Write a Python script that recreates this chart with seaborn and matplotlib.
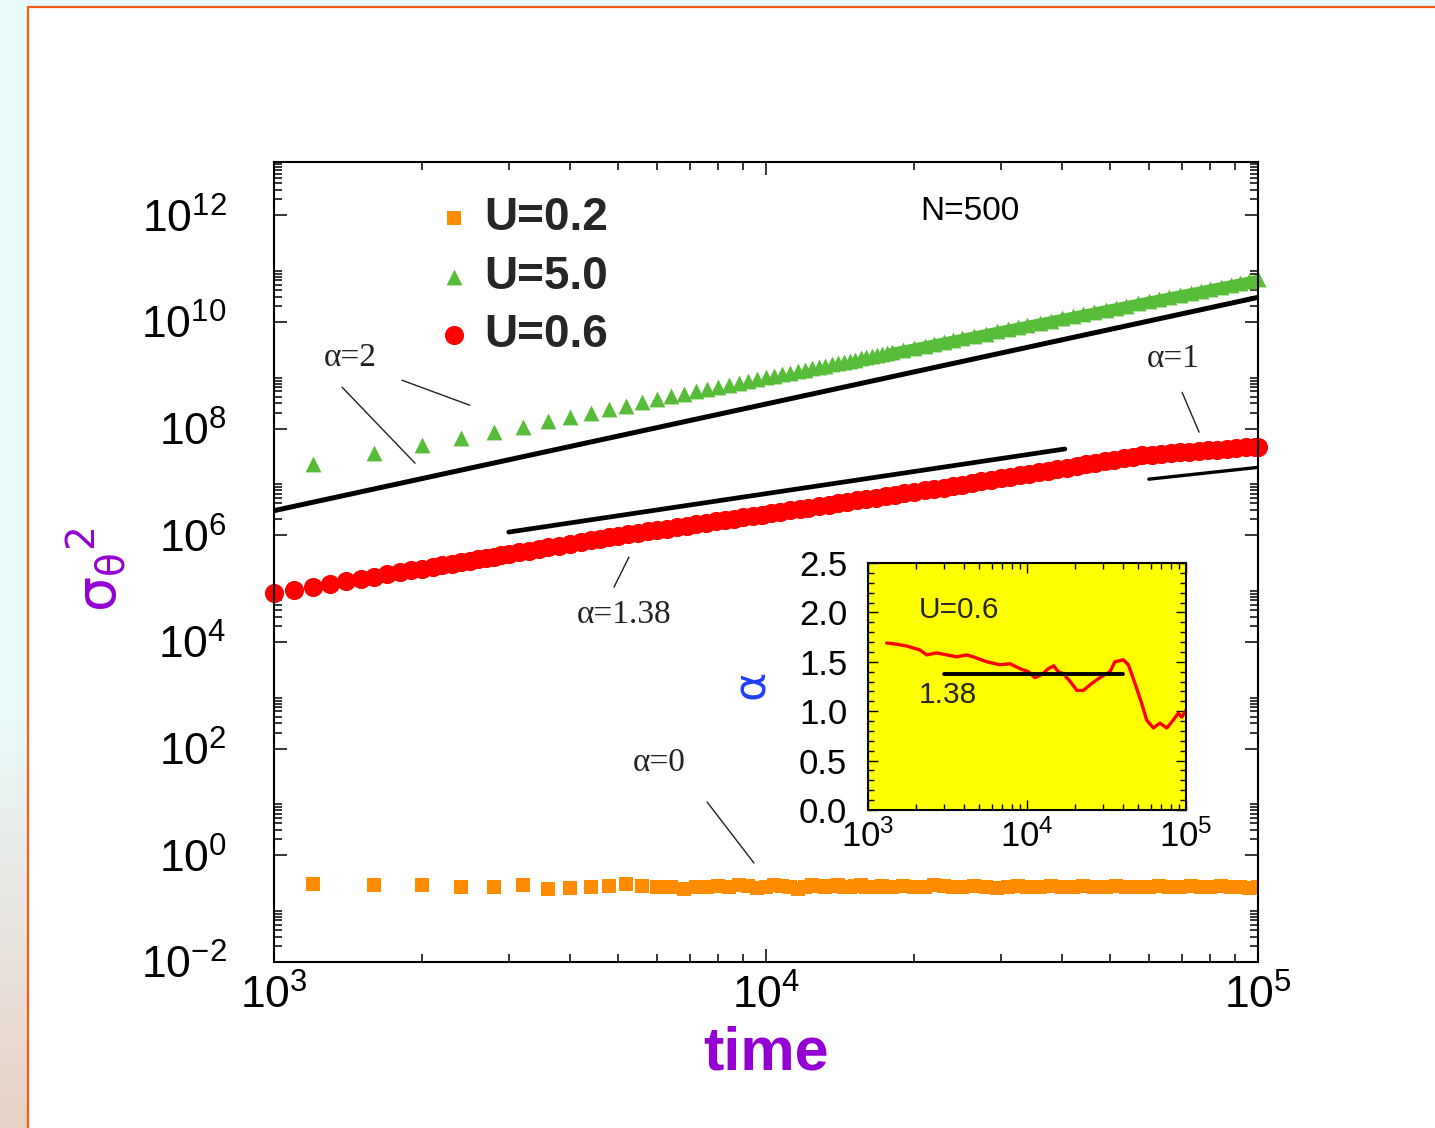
import numpy as np
import seaborn as sns
import matplotlib.pyplot as plt
from matplotlib import ticker
from matplotlib.patches import Rectangle

# ---- values ----
# U=5.0 and U=0.2 share one time grid
grid_t = [1200, 1600, 2000, 2400, 2800, 3200, 3600, 4000, 4400, 4800, 5200, 5600,
          6000, 6400, 6800, 7200, 7600, 8000, 8400, 8800, 9200, 9600, 10000, 10400,
          10800, 11200, 11600, 12000, 12400, 12800, 13200, 13600, 14000, 14400, 14800,
          15200, 15600, 16000, 16400, 16800, 17200, 17600, 18000,
          19000, 20000, 21000, 22000, 23000, 24000, 25000, 26500, 28000, 29500, 31000,
          32500, 34000, 36000, 38000, 40000, 42000, 44000, 46500, 49000, 51500, 54000,
          57000, 60000, 63000, 66000, 69500, 73000, 76500, 80000, 84000, 88000, 92000,
          96000, 100000]

green_y = [2.16e7, 3.47e7, 4.90e7, 6.62e7, 8.58e7, 1.06e8, 1.38e8, 1.64e8, 1.95e8, 2.31e8,
           2.63e8, 3.13e8, 3.57e8, 4.06e8, 4.49e8, 4.98e8, 5.51e8, 6.05e8, 6.62e8, 7.21e8,
           7.82e8, 8.45e8, 9.12e8, 9.80e8, 1.05e9, 1.12e9, 1.20e9, 1.28e9, 1.36e9, 1.44e9,
           1.52e9, 1.61e9, 1.69e9, 1.79e9, 1.88e9, 1.97e9, 2.07e9, 2.17e9, 2.27e9, 2.37e9,
           2.47e9, 2.58e9, 2.69e9,
           2.97e9, 3.27e9, 3.57e9, 3.89e9, 4.23e9, 4.57e9, 4.92e9, 5.48e9, 6.07e9, 6.67e9,
           7.31e9, 7.98e9, 8.67e9, 9.63e9, 1.06e10, 1.17e10, 1.28e10, 1.39e10, 1.54e10,
           1.70e10, 1.86e10, 2.03e10, 2.24e10, 2.47e10, 2.70e10, 2.94e10, 3.23e10, 3.54e10,
           3.85e10, 4.19e10, 4.58e10, 4.99e10, 5.42e10, 5.86e10, 6.31e10]

orange_y = [0.29, 0.28, 0.28, 0.255, 0.255, 0.28, 0.235, 0.245, 0.255, 0.265,
            0.29, 0.27, 0.26, 0.25, 0.23, 0.25, 0.26, 0.27, 0.26, 0.28,
            0.27, 0.24, 0.26, 0.28, 0.27, 0.25, 0.23, 0.26, 0.28, 0.27,
            0.25, 0.27, 0.28, 0.26, 0.25, 0.27, 0.28, 0.26, 0.25, 0.26,
            0.27, 0.25, 0.26,
            0.27, 0.25, 0.26, 0.28, 0.27, 0.25, 0.26, 0.27, 0.25, 0.24,
            0.26, 0.27, 0.26, 0.25, 0.27, 0.26, 0.25, 0.27, 0.26, 0.25,
            0.27, 0.26, 0.25, 0.26, 0.27, 0.25, 0.26, 0.27, 0.25, 0.26,
            0.27, 0.25, 0.26, 0.24, 0.26]

red_t = [1000, 1100, 1200, 1300, 1400, 1500, 1600, 1700, 1800, 1900, 2000, 2100, 2200,
         2300, 2400, 2500, 2600, 2700, 2800, 2900, 3000,
         3150, 3300, 3450, 3600, 3800, 4000, 4200, 4400, 4600, 4800, 5000, 5250, 5500,
         5750, 6000, 6300, 6600, 6900, 7200, 7550, 7900, 8250, 8600, 9000, 9400, 9800,
         10250, 10700, 11200, 11700, 12200, 12800, 13400, 14000, 14600, 15300, 16000,
         16700, 17500, 18300, 19100, 20000, 21000, 22000, 23000, 24000, 25000, 26200,
         27400, 28600, 30000, 31400, 32800, 34300, 35800, 37400, 39100, 40900, 42800,
         44700, 46700, 48800, 51000, 53300, 55700, 58200, 60800, 63500, 66400, 69400,
         72500, 75800, 79200, 82700, 86400, 90300, 94400, 98600, 100000]

red_y = [8.24e4, 9.53e4, 1.09e5, 1.23e5, 1.38e5, 1.53e5, 1.69e5, 1.85e5, 2.03e5, 2.20e5,
         2.38e5, 2.56e5, 2.75e5, 2.94e5, 3.15e5, 3.36e5, 3.56e5, 3.78e5, 4.00e5, 4.23e5,
         4.46e5,
         4.81e5, 5.16e5, 5.53e5, 5.92e5, 6.44e5, 6.97e5, 7.52e5, 8.09e5, 8.67e5, 9.20e5,
         9.73e5, 1.04e6, 1.11e6, 1.18e6, 1.25e6, 1.34e6, 1.42e6, 1.51e6, 1.60e6, 1.71e6,
         1.82e6, 1.93e6, 2.05e6, 2.18e6, 2.31e6, 2.44e6, 2.60e6, 2.75e6, 2.94e6, 3.12e6,
         3.30e6, 3.52e6, 3.75e6, 3.98e6, 4.22e6, 4.50e6, 4.78e6, 5.07e6, 5.41e6, 5.74e6,
         6.09e6, 6.49e6, 6.93e6, 7.39e6, 7.87e6, 8.39e6, 8.93e6, 9.59e6, 1.03e7, 1.09e7,
         1.18e7, 1.26e7, 1.35e7, 1.44e7, 1.53e7, 1.64e7, 1.75e7, 1.87e7, 2.00e7, 2.14e7,
         2.28e7, 2.44e7, 2.60e7, 2.78e7, 2.97e7, 3.17e7, 3.27e7, 3.37e7, 3.48e7, 3.59e7,
         3.70e7, 3.81e7, 3.94e7, 4.06e7, 4.18e7, 4.32e7, 4.45e7, 4.58e7, 4.63e7]

# power-law guides (alpha = 2, 1.38, 1)
fit2_t, fit2_y = [1000, 100000], [2.9e6, 2.9e10]
fit138_t, fit138_y = [3000, 40500], [1.15e6, 4.16e7]
fit1_t, fit1_y = [60000, 100000], [1.13e7, 1.88e7]

# inset: local exponent for U=0.6
alpha_t = [1310, 1480, 1750, 2120, 2340, 2700, 3130, 3610, 4180, 4600, 5580, 6760, 7820,
           9040, 10200, 11200, 12400, 13600, 14700, 15700, 16900, 18700, 20600, 22600,
           25500, 28800, 33300, 35700, 40400, 43400, 47800, 52600, 56600, 62400, 68500,
           75700, 81300, 89500, 94000, 100000]
alpha_v = [1.69, 1.68, 1.66, 1.62, 1.57, 1.59, 1.57, 1.55, 1.57, 1.55, 1.50, 1.47, 1.48,
           1.43, 1.40, 1.34, 1.37, 1.43, 1.46, 1.40, 1.38, 1.30, 1.21, 1.21, 1.28, 1.34,
           1.40, 1.50, 1.52, 1.47, 1.28, 1.08, 0.91, 0.83, 0.88, 0.83, 0.89, 0.98, 0.94,
           1.01]
alpha_fit_t, alpha_fit_v = [3000, 40000], [1.38, 1.38]

ORANGE, GREEN, RED = "#ff8c00", "#57bd38", "#ff0000"
PURPLE = "#9400d3"

sns.set_theme(style="ticks")
plt.rcParams["font.family"] = ["Liberation Sans", "DejaVu Sans"]
plt.rcParams["mathtext.fontset"] = "custom"
plt.rcParams["mathtext.rm"] = "Liberation Sans"
plt.rcParams["mathtext.it"] = "Liberation Sans:italic"
plt.rcParams["mathtext.bf"] = "Liberation Sans:bold"

fig = plt.figure(figsize=(14.35, 11.28), dpi=100, facecolor="white")

# slide background: gradient strip on the left and orange frame
bg = fig.add_axes([0, 0, 1, 1], zorder=-5)
rows = np.linspace(0, 1, 256)[:, None]
top_c = np.array([0.91, 0.985, 0.985])
bot_c = np.array([0.91, 0.82, 0.78])
w = np.clip((rows - 0.62) / 0.38, 0, 1)
strip = top_c * (1 - w) + bot_c * w
bg.imshow(strip[:, None, :], extent=(0, 27, 1128, 0), aspect="auto")
bg.add_patch(Rectangle((0, 0), 1435, 6, color=top_c))
bg.plot([28, 28], [7, 1128], color="#ff5a14", lw=1.6)
bg.plot([28, 1435], [7, 7], color="#ff5a14", lw=1.6)
bg.set_xlim(0, 1435)
bg.set_ylim(1128, 0)
bg.set_axis_off()

ax = fig.add_axes([274 / 1435, 1 - 962 / 1128, 984 / 1435, 800 / 1128])
ax.set_xscale("log")
ax.set_yscale("log")

gt = np.array(grid_t)
dense = gt >= 18000
sns.scatterplot(x=grid_t, y=orange_y, marker="s", s=115, color=ORANGE, linewidth=0,
                label="U=0.2", ax=ax)
sns.lineplot(x=gt[dense], y=np.array(green_y)[dense], color=GREEN, lw=6.5, ax=ax,
             legend=False)
sns.scatterplot(x=grid_t, y=green_y, marker="^", s=130, color=GREEN, linewidth=0,
                label="U=5.0", ax=ax, clip_on=False)
sns.scatterplot(x=red_t, y=red_y, marker="o", s=190, color=RED, linewidth=0,
                label="U=0.6", ax=ax, clip_on=False)

sns.lineplot(x=fit2_t, y=fit2_y, color="black", lw=3.6, ax=ax, legend=False)
sns.lineplot(x=fit138_t, y=fit138_y, color="black", lw=3.4, ax=ax, legend=False)
sns.lineplot(x=fit1_t, y=fit1_y, color="black", lw=2.4, ax=ax, legend=False)

ax.set_xlim(1e3, 1e5)
ax.set_ylim(1e-2, 1e13)

fmt = ticker.FuncFormatter(lambda v, p: r"$10^{%d}$" % round(np.log10(v)))
ax.xaxis.set_major_locator(ticker.FixedLocator([1e3, 1e4, 1e5]))
ax.xaxis.set_minor_locator(ticker.LogLocator(base=10, subs=np.arange(2, 10), numticks=20))
ax.xaxis.set_major_formatter(fmt)
ax.xaxis.set_minor_formatter(ticker.NullFormatter())
ax.yaxis.set_major_locator(ticker.FixedLocator([10.0 ** e for e in range(-2, 13, 2)]))
ax.yaxis.set_minor_locator(ticker.FixedLocator(
    [m * 10.0 ** e for e in range(-2, 13, 2) for m in range(2, 10)]))
ax.yaxis.set_major_formatter(fmt)
ax.yaxis.set_minor_formatter(ticker.NullFormatter())

for sp in ax.spines.values():
    sp.set_linewidth(1.5)
    sp.set_color("black")
ax.tick_params(which="both", direction="in", top=True, right=True, width=1.1,
               labelsize=32, colors="black")
ax.tick_params(which="major", length=9.5)
ax.tick_params(which="minor", length=6)
ax.tick_params(axis="y", which="major", pad=34)
ax.tick_params(axis="x", which="major", pad=9)

ax.set_xlabel("time", fontsize=44, fontweight="bold", color=PURPLE)
ax.xaxis.set_label_coords(0.5, -0.08)
ax.set_ylabel(r"$\mathrm{\sigma}_{\mathrm{\theta}}{}^{2}$", fontsize=40, color=PURPLE,
              math_fontfamily="dejavusans")
ax.yaxis.set_label_coords(-0.147, 0.49)

ax.legend(loc="upper left", bbox_to_anchor=(440 / 1435, 1 - 196 / 1128),
          bbox_transform=fig.transFigure, frameon=False, borderpad=0, borderaxespad=0,
          handlelength=0.6, handletextpad=0.36, labelspacing=0.32,
          prop={"weight": "bold", "size": 33})

# annotations
serif = dict(family=["Liberation Serif", "DejaVu Serif"], fontsize=24, color="#222222",
             ha="center", va="center")
ax.text(1427, 2.18e9, "α=2", **serif)
ax.text(67100, 2.09e9, "α=1", **serif)
ax.text(5140, 3.19e4, "α=1.38", **serif)
ax.text(6060, 53.7, "α=0", **serif)
ax.text(25980, 1.19e12, "N=500", fontsize=24, ha="center", va="center", color="black")
leader = dict(arrowstyle="-", lw=1.0, color="#222222", shrinkA=0, shrinkB=0)
ax.annotate("", xy=(1935, 2.25e7), xytext=(1375, 6.0e8), arrowprops=leader)
ax.annotate("", xy=(2500, 2.75e8), xytext=(1820, 8.1e8), arrowprops=leader)
ax.annotate("", xy=(75900, 8.6e7), xytext=(70100, 4.8e8), arrowprops=leader)
ax.annotate("", xy=(4910, 1.07e5), xytext=(5265, 3.9e5), arrowprops=leader)
ax.annotate("", xy=(9450, 0.72), xytext=(7590, 10.0), arrowprops=leader)

# inset
ins = fig.add_axes([868 / 1435, 1 - 810 / 1128, 318 / 1435, 247 / 1128])
ins.set_facecolor("#ffff00")
ins.set_xscale("log")
sns.lineplot(x=alpha_t, y=alpha_v, color=RED, lw=2.4, ax=ins, legend=False)
sns.lineplot(x=alpha_fit_t, y=alpha_fit_v, color="black", lw=2.8, ax=ins, legend=False)
ins.set_xlim(1e3, 1e5)
ins.set_ylim(0, 2.5)
ins.xaxis.set_major_locator(ticker.FixedLocator([1e3, 1e4, 1e5]))
ins.xaxis.set_minor_locator(ticker.LogLocator(base=10, subs=np.arange(2, 10), numticks=20))
ins.xaxis.set_major_formatter(fmt)
ins.xaxis.set_minor_formatter(ticker.NullFormatter())
ins.yaxis.set_major_locator(ticker.MultipleLocator(0.5))
ins.yaxis.set_minor_locator(ticker.MultipleLocator(0.1))
ins.yaxis.set_major_formatter(ticker.FormatStrFormatter("%.1f"))
for sp in ins.spines.values():
    sp.set_linewidth(1.5)
    sp.set_color("black")
ins.tick_params(which="both", direction="in", top=True, right=True, width=1.0,
                labelsize=25, colors="black")
ins.tick_params(which="major", length=7)
ins.tick_params(which="minor", length=4)
ins.tick_params(axis="y", which="major", pad=15)
ins.tick_params(axis="x", which="major", pad=7)
ins.set_xlabel("")
ins.set_ylabel("α", fontsize=32, color="#1f3fff", family=["DejaVu Sans"])
ins.yaxis.set_label_coords(-0.30, 0.51)
ins.text(0.16, 0.81, "U=0.6", transform=ins.transAxes, fontsize=21.5, va="center")
ins.text(0.16, 0.465, "1.38", transform=ins.transAxes, fontsize=21.5, va="center")

fig.savefig("out.png", dpi=100)
